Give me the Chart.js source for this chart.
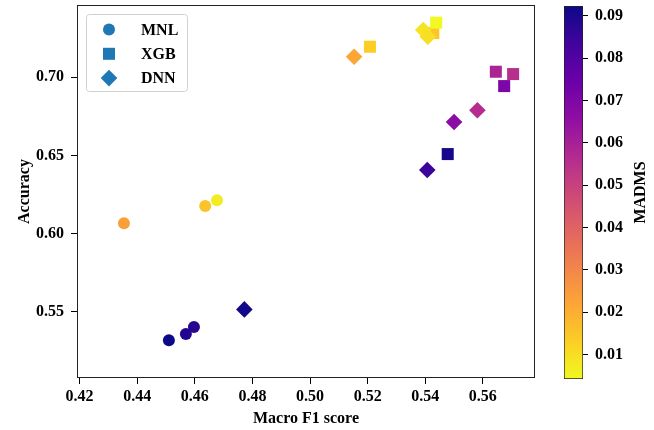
<!DOCTYPE html>
<html>
<head>
<meta charset="utf-8">
<script src="https://cdn.jsdelivr.net/npm/chart.js@4"></script>
<style>
  html, body { margin: 0; padding: 0; background: #fff; }
  #wrap { position: relative; width: 654px; height: 430px; }
  #main { position: absolute; left: 0; top: 0; width: 545px; height: 430px; }
  #cbar { position: absolute; left: 545px; top: 0; width: 109px; height: 430px; }
</style>
</head>
<body>
<div id="wrap">
  <div id="main"><canvas id="scatterChart"></canvas></div>
  <div id="cbar"><canvas id="colorbarChart"></canvas></div>
</div>
<script>
// data
const mnlF1    = [0.4354, 0.4636, 0.4677, 0.4510, 0.4569, 0.4597];
const mnlAcc   = [0.6067, 0.6176, 0.6214, 0.5318, 0.5357, 0.5402];
const mnlMadms = [0.0236, 0.0156, 0.0068, 0.0923, 0.0888, 0.0879];

const xgbF1    = [0.5208, 0.5428, 0.5438, 0.5645, 0.5705, 0.5674, 0.5478];
const xgbAcc   = [0.7196, 0.7284, 0.7350, 0.7036, 0.7021, 0.6944, 0.6509];
const xgbMadms = [0.0130, 0.0148, 0.0042, 0.0590, 0.0553, 0.0703, 0.0905];

const dnnF1    = [0.5153, 0.5393, 0.5409, 0.5581, 0.5500, 0.5407, 0.4772];
const dnnAcc   = [0.7132, 0.7303, 0.7260, 0.6789, 0.6714, 0.6407, 0.5515];
const dnnMadms = [0.0218, 0.0086, 0.0095, 0.0562, 0.0668, 0.0844, 0.0914];

const xTicks = [0.42, 0.44, 0.46, 0.48, 0.50, 0.52, 0.54, 0.56];
const yTicks = [0.55, 0.60, 0.65, 0.70];
const cbTicks = [0.01, 0.02, 0.03, 0.04, 0.05, 0.06, 0.07, 0.08, 0.09];

const xMin = 0.4191, xMax = 0.5781;
const yMin = 0.5076, yMax = 0.7463;
const madmsMin = 0.0042, madmsMax = 0.0923;

// plasma colormap anchors
const plasma = ['#0d0887', '#41049d', '#6a00a8', '#8f0da4', '#b12a90', '#cc4778',
                '#e16462', '#f2844b', '#fca636', '#fcce25', '#f0f921'];

function hexRgb(h) {
    return [parseInt(h.slice(1, 3), 16), parseInt(h.slice(3, 5), 16), parseInt(h.slice(5, 7), 16)];
}

function plasmaAt(t) {
    t = Math.max(0, Math.min(1, t));
    const p = t * (plasma.length - 1);
    const i = Math.min(Math.floor(p), plasma.length - 2);
    const f = p - i;
    const a = hexRgb(plasma[i]), b = hexRgb(plasma[i + 1]);
    const c = a.map((v, k) => Math.round(v + (b[k] - v) * f));
    return `rgb(${c[0]},${c[1]},${c[2]})`;
}

// high MADMS = dark end of plasma
const madmsColor = v => plasmaAt((madmsMax - v) / (madmsMax - madmsMin));

const pts = (xs, ys) => xs.map((x, i) => ({ x: x, y: ys[i] }));

const font = { family: '"Liberation Serif", "Times New Roman", serif', size: 16, weight: 'bold' };
const legendBlue = '#1f77b4';

// keep Chart.js from reserving room for edge tick labels
function noEdgePadding(s) {
    s.paddingTop = 0; s.paddingBottom = 0; s.paddingLeft = 0; s.paddingRight = 0;
}

const frame = {
    id: 'frame',
    afterDraw(chart) {
        const { ctx, chartArea: a } = chart;
        ctx.save();
        ctx.strokeStyle = '#222';
        ctx.lineWidth = 1;
        ctx.strokeRect(Math.round(a.left) + 0.5, Math.round(a.top) + 0.5,
                       Math.round(a.right - a.left) - 1, Math.round(a.bottom - a.top) - 1);
        ctx.restore();
    }
};

const boxLegend = {
    id: 'boxLegend',
    afterDraw(chart) {
        const { ctx, chartArea: a } = chart;
        const bx = a.left + 9, by = a.top + 9, bw = 101, bh = 77;
        ctx.save();
        ctx.fillStyle = 'rgba(255,255,255,0.8)';
        ctx.strokeStyle = '#d0d0d0';
        ctx.lineWidth = 1;
        ctx.beginPath();
        ctx.roundRect(bx + 0.5, by + 0.5, bw, bh, 3);
        ctx.fill();
        ctx.stroke();
        const items = [...chart.data.datasets].sort((p, q) => q.order - p.order);
        items.forEach((ds, i) => {
            const y = by + 15.5 + i * 24.3;
            ctx.fillStyle = legendBlue;
            Chart.helpers.drawPoint(ctx, {
                pointStyle: ds.pointStyle, radius: ds.pointRadius, rotation: 0, borderWidth: 0
            }, bx + 23, y);
            ctx.fillStyle = '#000';
            ctx.font = `bold ${font.size}px ${font.family}`;
            ctx.textBaseline = 'middle';
            ctx.textAlign = 'left';
            ctx.fillText(ds.label, bx + 55, y + 1);
        });
        ctx.restore();
    }
};

const axisCommon = {
    type: 'linear',
    border: { display: false },
    grid: { drawOnChartArea: false, tickLength: 6, tickColor: '#000', tickWidth: 1 },
    ticks: { color: '#000', font: font, maxRotation: 0, callback: v => v.toFixed(2) }
};

new Chart(document.getElementById('scatterChart'), {
    type: 'scatter',
    data: {
        datasets: [
            {
                label: 'MNL', order: 2, data: pts(mnlF1, mnlAcc),
                pointStyle: 'circle', pointRadius: 6, pointHoverRadius: 6, borderWidth: 0,
                pointBackgroundColor: mnlMadms.map(madmsColor)
            },
            {
                label: 'XGB', order: 1, data: pts(xgbF1, xgbAcc),
                pointStyle: 'rect', pointRadius: 8.5, pointHoverRadius: 8.5, borderWidth: 0,
                pointBackgroundColor: xgbMadms.map(madmsColor)
            },
            {
                label: 'DNN', order: 0, data: pts(dnnF1, dnnAcc),
                pointStyle: 'rectRot', pointRadius: 8.3, pointHoverRadius: 8.3, borderWidth: 0,
                pointBackgroundColor: dnnMadms.map(madmsColor)
            }
        ]
    },
    options: {
        responsive: true,
        maintainAspectRatio: false,
        animation: false,
        layout: { autoPadding: false, padding: { top: 5, right: 10, left: 0, bottom: 0 } },
        plugins: { legend: { display: false }, tooltip: { enabled: false } },
        scales: {
            x: {
                ...axisCommon,
                min: xMin, max: xMax,
                afterFit: s => { s.height = 52; noEdgePadding(s); },
                afterBuildTicks: s => { s.ticks = xTicks.map(v => ({ value: v })); },
                ticks: { ...axisCommon.ticks, padding: 3 },
                title: { display: true, text: 'Macro F1 score', color: '#000', font: font, padding: { top: 0, bottom: 2 } }
            },
            y: {
                ...axisCommon,
                min: yMin, max: yMax,
                afterFit: s => { s.width = 77; noEdgePadding(s); },
                afterBuildTicks: s => { s.ticks = yTicks.map(v => ({ value: v })); },
                ticks: { ...axisCommon.ticks, padding: 7 },
                title: { display: true, text: 'Accuracy', color: '#000', font: font, padding: { top: 15, bottom: 0 } }
            }
        }
    },
    plugins: [frame, boxLegend]
});

// Colorbar
function cbGradient(chart) {
    const area = chart.chartArea;
    if (!area) return plasma[5];
    const ys = chart.scales.y;
    const g = chart.ctx.createLinearGradient(0, ys.getPixelForValue(madmsMax), 0, ys.getPixelForValue(madmsMin));
    for (let i = 0; i <= 40; i++) g.addColorStop(i / 40, plasmaAt(i / 40));
    return g;
}

const cbTitle = {
    id: 'cbTitle',
    afterDraw(chart) {
        const { ctx, chartArea: a } = chart;
        ctx.save();
        ctx.translate(a.right + 58, (a.top + a.bottom) / 2);
        ctx.rotate(-Math.PI / 2);
        ctx.fillStyle = '#000';
        ctx.font = `bold ${font.size}px ${font.family}`;
        ctx.textAlign = 'center';
        ctx.textBaseline = 'middle';
        ctx.fillText('MADMS', 0, 0);
        ctx.restore();
    }
};

new Chart(document.getElementById('colorbarChart'), {
    type: 'bar',
    data: {
        labels: [''],
        datasets: [{
            data: [[madmsMin, madmsMax]],
            backgroundColor: c => cbGradient(c.chart),
            borderColor: '#222', borderWidth: 1, borderSkipped: false,
            barPercentage: 1, categoryPercentage: 1
        }]
    },
    options: {
        responsive: true,
        maintainAspectRatio: false,
        animation: false,
        layout: { autoPadding: false, padding: { left: 19, top: 6, bottom: 51, right: 0 } },
        plugins: { legend: { display: false }, tooltip: { enabled: false } },
        scales: {
            x: { display: false },
            y: {
                position: 'right',
                min: madmsMin, max: madmsMax,
                afterFit: s => { s.width = 71; noEdgePadding(s); },
                afterBuildTicks: s => { s.ticks = cbTicks.map(v => ({ value: v })); },
                border: { display: false },
                grid: { drawOnChartArea: false, tickLength: 5, tickColor: '#000' },
                ticks: { color: '#000', font: font, padding: 7, callback: v => v.toFixed(2) }
            }
        }
    },
    plugins: [cbTitle]
});
</script>
</body>
</html>
